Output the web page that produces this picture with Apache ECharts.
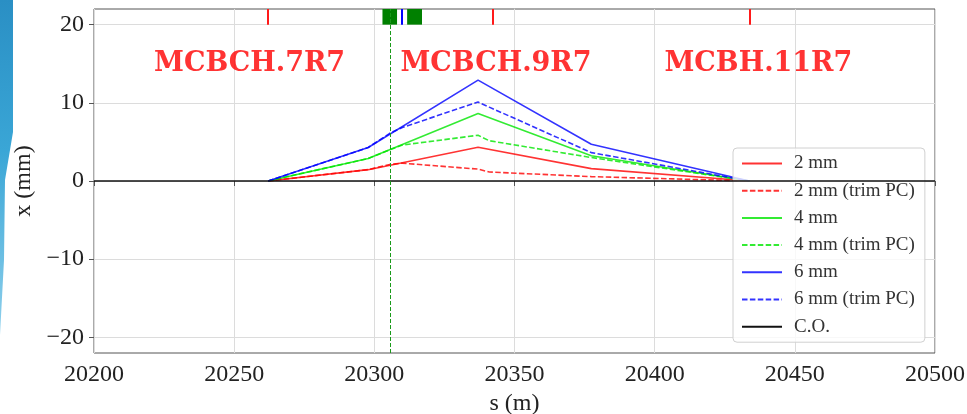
<!DOCTYPE html>
<html>
<head>
<meta charset="utf-8">
<script src="https://cdn.jsdelivr.net/npm/echarts@6/dist/echarts.min.js"></script>
<style>
  html, body { margin: 0; padding: 0; background: #fff; }
  #chart { width: 967px; height: 414px; }
</style>
</head>
<body>
<div id="chart"></div>
<script>
// Orbit bump knots (s in m)
const sKnots = [20262.1, 20297.8, 20337.0, 20377.4, 20433.8];
const bump2 = [0, 1.45, 4.32, 1.58, 0];
const bump4 = [0, 2.88, 8.62, 3.22, 0];
const bump6 = [0, 4.28, 12.9, 4.7, 0];

// Bumps with trimmed power converter
const sTrim = [20262.1, 20297.8, 20305.5, 20310.0, 20337.0, 20341.0, 20377.4, 20433.8];
const trim2 = [0, 1.45, 2.12, 2.28, 1.52, 1.15, 0.56, 0];
const trim4 = [0, 2.88, 4.0, 4.6, 5.85, 5.15, 3.0, 0];
const trim6 = [0, 4.28, 6.1, 6.85, 10.1, 9.45, 3.63, 0];

// Closed orbit
const sCO = [20200, 20500];
const xCO = [0, 0];

// Element markers along the top
const correctorS = [20262.1, 20342.1, 20433.8];
const bpmS = [20309.8];
const magnetSpans = [[20302.9, 20308.1], [20311.7, 20317.0]];
const markerBand = [20, 22];
const trimLineS = 20305.5;

// Corrector names
const labelNames = ['MCBCH.7R7', 'MCBCH.9R7', 'MCBH.11R7'];
const labelS = [20255.5, 20343.4, 20437.0];
const labelY = 15.0;

const xTicks = [20200, 20250, 20300, 20350, 20400, 20450, 20500];
const yTicks = [-20, -10, 0, 10, 20];

const RED = 'rgba(255,0,0,0.8)';
const GREEN = 'rgba(0,230,0,0.8)';
const BLUE = 'rgba(0,0,255,0.8)';
const DASH = [5.5, 2.4];
const SERIF = '"Liberation Serif", "DejaVu Serif", serif';

const pairs = (xs, ys) => xs.map((v, i) => [v, ys[i]]);

function lineSeries(name, xs, ys, color, dashed) {
  return {
    name, type: 'line', data: pairs(xs, ys), symbol: 'none',
    lineStyle: { color, width: 1.6, type: dashed ? DASH : 'solid' },
    itemStyle: { color },
    emphasis: { disabled: true }, silent: true, z: 3
  };
}

function segment(s, style) {
  return [{ coord: [s, markerBand[0]], lineStyle: style }, { coord: [s, markerBand[1]], lineStyle: style }];
}

const trimStyle = { color: '#1a9a1a', width: 1, type: [4, 2], opacity: 1 };
const corrStyle = { color: '#ff1a1a', width: 2, type: 'solid', opacity: 1 };
const bpmStyle = { color: '#0000ff', width: 2, type: 'solid', opacity: 1 };

const chart = echarts.init(document.getElementById('chart'));

const option = {
  animation: false,
  backgroundColor: '#fff',
  grid: { left: 94, right: 32, top: 9, bottom: 61, show: true, borderColor: '#555', borderWidth: 1,
    backgroundColor: 'transparent', containLabel: false, outerBoundsMode: 'none' },
  xAxis: {
    type: 'value', min: 20200, max: 20500, interval: 50,
    name: 's (m)', nameLocation: 'middle', nameGap: 36,
    nameTextStyle: { fontFamily: SERIF, fontSize: 24, color: '#222' },
    axisLine: { show: false },
    axisTick: { show: true, length: 5, lineStyle: { color: '#555' } },
    axisLabel: { fontFamily: SERIF, fontSize: 24, color: '#222', margin: 10,
      formatter: v => xTicks.includes(v) ? String(v) : '' },
    splitLine: { show: true, lineStyle: { color: '#dcdcdc', width: 1 } }
  },
  yAxis: {
    type: 'value', min: -22, max: 22,
    name: 'x (mm)', nameLocation: 'middle', nameGap: 57, nameRotate: 90,
    nameTextStyle: { fontFamily: SERIF, fontSize: 24, color: '#222' },
    axisLine: { show: false },
    axisTick: { show: true, length: 5, lineStyle: { color: '#555' }, customValues: yTicks },
    axisLabel: { fontFamily: SERIF, fontSize: 24, color: '#222', margin: 10, customValues: yTicks,
      formatter: v => (v < 0 ? '\u2212' + Math.abs(v) : String(v)) },
    splitLine: { show: true, lineStyle: { color: '#dcdcdc', width: 1 }, customValues: yTicks }
  },
  legend: {
    orient: 'vertical', left: 733, top: 148,
    data: ['2 mm', '2 mm (trim PC)', '4 mm', '4 mm (trim PC)', '6 mm', '6 mm (trim PC)', 'C.O.'],
    backgroundColor: 'rgba(255,255,255,0.8)', borderColor: '#d0d0d0', borderWidth: 1, borderRadius: 4,
    padding: [6, 10, 6, 8], itemWidth: 40, itemHeight: 14, itemGap: 8.2,
    itemStyle: { opacity: 0 },
    textStyle: { fontFamily: SERIF, fontSize: 19, color: '#333', lineHeight: 19, padding: [0, 0, 0, 7] },
    selectedMode: false
  },
  graphic: [{
    type: 'polygon', silent: true, z: 100,
    shape: { points: [[0, 0], [13, 0], [13, 132], [5, 180], [4, 260], [0, 335]] },
    style: { fill: new echarts.graphic.LinearGradient(0, 0, 0, 1, [
      { offset: 0, color: '#2a8fc4' }, { offset: 0.45, color: '#3aa6d6' }, { offset: 1, color: '#8fd0ec' }]) }
  }],
  series: [
    lineSeries('2 mm', sKnots, bump2, RED, false),
    lineSeries('2 mm (trim PC)', sTrim, trim2, RED, true),
    lineSeries('4 mm', sKnots, bump4, GREEN, false),
    lineSeries('4 mm (trim PC)', sTrim, trim4, GREEN, true),
    lineSeries('6 mm', sKnots, bump6, BLUE, false),
    lineSeries('6 mm (trim PC)', sTrim, trim6, BLUE, true),
    {
      name: 'C.O.', type: 'line', data: pairs(sCO, xCO), symbol: 'none',
      lineStyle: { color: '#111', width: 1.6 }, itemStyle: { color: '#111' }, z: 4, silent: true
    },
    {
      // element markers, trim line and corrector names
      name: 'elements', type: 'scatter', data: labelS.map((s, i) => ({ value: [s, labelY], name: labelNames[i] })),
      symbolSize: 0, silent: true, z: 5,
      itemStyle: { color: '#ff0000' },
      label: { show: true, position: 'inside', formatter: p => p.name,
        fontFamily: '"DejaVu Serif", serif', fontWeight: 'bold', fontSize: 27, color: '#ff0000' },
      markLine: {
        silent: true, symbol: 'none', label: { show: false },
        emphasis: { disabled: true },
        data: [
          [{ coord: [trimLineS, -22], lineStyle: trimStyle }, { coord: [trimLineS, 22], lineStyle: trimStyle }],
          ...correctorS.map(s => segment(s, corrStyle)),
          ...bpmS.map(s => segment(s, bpmStyle))
        ]
      },
      markArea: {
        silent: true, label: { show: false },
        itemStyle: { color: '#008000', opacity: 1 },
        data: magnetSpans.map(([a, b]) => [{ coord: [a, markerBand[0]] }, { coord: [b, markerBand[1]] }])
      }
    }
  ]
};

chart.setOption(option);
</script>
</body>
</html>
